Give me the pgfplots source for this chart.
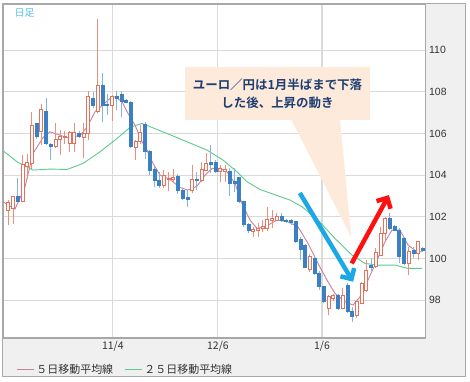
\documentclass[border=0pt]{standalone}
\usepackage{pgfplots}
\pgfplotsset{compat=1.18}
\usepackage{pgfplotstable}
\usetikzlibrary{arrows.meta}
\usepackage{fontspec}
\setmainfont{Liberation Sans}
\newfontfamily\jp{Noto Sans CJK JP}[BoldFont={Noto Sans CJK JP Bold}]
\definecolor{upc}{HTML}{E2725B}
\definecolor{upw}{HTML}{E8907E}
\definecolor{dnc}{HTML}{3A80C2}
\definecolor{dnw}{HTML}{86B4DC}
\definecolor{ma5}{HTML}{C9819F}
\definecolor{ma25}{HTML}{5CCB8D}
\definecolor{gridc}{HTML}{DADADA}
\definecolor{panel}{HTML}{F0F0F0}
\definecolor{framec}{HTML}{A8A8A8}
\definecolor{callout}{HTML}{FDEADB}
\definecolor{callt}{HTML}{1E3E72}
\definecolor{arrowb}{HTML}{1BA8E6}
\definecolor{arrowr}{HTML}{FF1010}
\definecolor{labelc}{HTML}{55C3EE}
\definecolor{textc}{HTML}{333333}

\pgfdeclareplotmark{cbody}{%
  \pgfpathrectangle{\pgfpoint{-1.5bp}{0bp}}{\pgfpoint{3.0bp}{\candleh bp}}%
  \pgfusepath{fill,stroke}}
\pgfdeclareplotmark{cwick}{%
  \pgfpathmoveto{\pgfpoint{0bp}{0bp}}\pgfpathlineto{\pgfpoint{0bp}{\wickh bp}}%
  \pgfusepath{stroke}}

\pgfplotstableread{
i o h l c
0 102.3 102.8 101.6 102.7
1 102.4 102.95 101.65 102.96
2 102.96 103.84 102.7 102.75
3 102.72 104.96 102.7 104.51
4 104.4 105.0 103.8 104.6
5 104.56 107.04 104.3 106.4
6 106.48 106.5 105.75 105.84
7 106.08 107.39 105.44 107.15
8 107.07 107.68 105.44 105.52
9 105.5 105.55 104.72 105.4
10 105.4 106.5 105.3 105.7
11 105.7 106.15 104.95 105.85
12 105.8 106.1 105.5 105.85
13 105.5 106.1 105.1 106.05
14 105.5 106.48 105.1 106.05
15 106.0 106.1 105.8 105.85
16 105.8 106.5 104.8 106.0
17 106.0 108.03 105.68 107.76
18 107.71 108.0 107.2 107.33
19 107.04 111.49 106.96 108.32
20 108.29 108.88 106.53 107.33
21 107.4 107.87 106.88 107.33
22 107.36 107.85 106.6 107.76
23 107.8 108.03 107.12 107.7
24 107.9 108.03 106.8 107.55
25 107.6 107.65 107.45 107.5
26 107.49 107.55 105.28 105.36
27 105.35 105.7 104.72 105.6
28 105.6 106.4 105.5 106.05
29 106.43 106.56 104.77 105.12
30 105.12 105.2 104.0 104.24
31 104.29 104.4 103.41 103.73
32 103.73 104.16 103.36 103.52
33 103.52 104.24 103.4 104.0
34 103.8 104.16 103.25 103.85
35 103.78 104.3 103.6 103.9
36 103.95 104.05 103.1 103.25
37 103.28 103.35 102.8 102.88
38 102.92 103.28 102.45 102.85
39 103.25 104.48 103.12 103.8
40 103.8 104.16 103.28 103.73
41 103.76 104.64 103.68 104.27
42 104.24 105.04 104.2 104.56
43 104.6 105.44 104.1 104.53
44 104.6 104.72 104.08 104.16
45 104.16 104.48 103.68 104.32
46 104.16 104.48 103.68 104.27
47 104.2 104.32 102.99 103.63
48 103.68 104.32 103.2 103.6
49 103.89 103.92 102.64 102.72
50 102.72 102.75 101.52 101.65
51 101.65 101.7 101.23 101.33
52 101.3 101.52 101.04 101.39
53 101.33 101.68 101.04 101.44
54 101.44 101.84 101.28 101.55
55 101.44 102.48 101.33 101.87
56 101.84 102.32 101.44 101.92
57 101.84 102.16 101.8 102.03
58 102.0 102.16 101.76 101.81
59 101.84 101.9 101.7 101.76
60 101.84 101.9 101.6 101.72
61 101.76 101.8 100.72 100.8
62 100.9 101.04 99.92 100.43
63 100.64 100.7 99.52 99.57
64 99.45 100.2 99.36 100.1
65 100.0 100.1 99.2 99.3
66 99.28 99.4 98.5 98.64
67 98.64 98.7 97.85 97.92
68 97.6 98.24 97.28 98.16
69 98.08 98.3 97.95 98.24
70 98.24 98.3 97.52 97.6
71 97.6 98.56 97.55 98.24
72 98.72 98.8 97.36 97.44
73 97.44 97.68 96.96 97.2
74 97.28 98.0 97.12 97.92
75 97.84 98.85 97.8 98.8
76 98.48 99.92 98.4 99.44
77 99.68 100.0 99.4 99.57
78 99.6 100.48 99.52 100.27
79 100.16 101.52 100.1 101.2
80 101.2 102.0 100.8 101.92
81 101.92 102.16 101.36 101.44
82 101.52 101.6 101.3 101.36
83 101.36 101.44 99.76 100.08
84 100.96 101.04 99.68 99.76
85 99.76 100.56 99.2 100.32
86 100.37 100.56 100.0 100.24
87 100.24 100.85 99.92 100.8
88 100.48 100.56 100.32 100.4
}\ohlc

\begin{document}
\begin{tikzpicture}
\useasboundingbox (0,0) rectangle (470bp,382bp);
\fill[panel] (2.5bp,5bp) rectangle (465.5bp,378bp);
\begin{axis}[
  anchor=south west, at={(3bp,44bp)},
  x=4.71bp, y=20.83bp,
  xmin=-1.13, xmax=88.6, ymin=96.18, ymax=112.2,
  axis background/.style={fill=white},
  axis line style={draw=framec, line width=1.5bp},
  grid=major, major grid style={draw=gridc, line width=1.1bp},
  major tick length=0pt,
  xtick={22.2,44.5,66.6}, xticklabels={11/4,12/6,1/6},
  ytick={98,100,...,110},
  yticklabel pos=right,
  /pgf/number format/assume math mode=true,
  yticklabel style={anchor=west, font=\fontsize{10.5}{12}\selectfont, text=textc},
  xticklabel style={font=\jp\fontsize{10.5}{12}\selectfont, text=textc},
  legend style={at={(axis description cs:0,0)}, anchor=north west, xshift=10bp, yshift=-22bp,
    draw=none, fill=none, font=\jp\fontsize{11}{13}\selectfont, text=textc,
    /tikz/every even column/.append style={column sep=9bp}},
  legend columns=2,
  legend image code/.code={\draw[#1, line width=1.3bp] (0bp,0bp) -- (17bp,0bp);},
]
% callout
\fill[callout] (axis cs:37.5,106.64) rectangle (axis cs:76.8,109.18);
\fill[callout] (axis cs:60.0,106.7) -- (axis cs:72.8,101.02) -- (axis cs:70.4,106.7) -- cycle;
\node[text=callt, font=\jp\bfseries\fontsize{12.5}{14}\selectfont] at (axis cs:57.15,108.32) {ユーロ／円は1月半ばまで下落};
\node[text=callt, font=\jp\bfseries\fontsize{12.5}{14}\selectfont] at (axis cs:57.15,107.46) {した後、上昇の動き};
% wicks
\addplot[forget plot, only marks, mark=cwick, mark options={draw=upw, line width=0.8bp},
  visualization depends on={max(20.83*(\thisrow{h}-\thisrow{l}),0.5) \as \wickh}]
  table[x=i, y expr={\thisrow{c}>=\thisrow{o} ? \thisrow{l} : nan}] {\ohlc};
\addplot[forget plot, only marks, mark=cwick, mark options={draw=dnw, line width=0.8bp},
  visualization depends on={max(20.83*(\thisrow{h}-\thisrow{l}),0.5) \as \wickh}]
  table[x=i, y expr={\thisrow{c}<\thisrow{o} ? \thisrow{l} : nan}] {\ohlc};
% bodies
\addplot[forget plot, only marks, mark=cbody, mark options={draw=upc, fill=white, line width=0.8bp},
  visualization depends on={max(20.83*abs(\thisrow{c}-\thisrow{o}),0.6) \as \candleh}]
  table[x=i, y expr={\thisrow{c}>=\thisrow{o} ? \thisrow{o} : nan}] {\ohlc};
\addplot[forget plot, only marks, mark=cbody, mark options={draw=dnc, fill=dnc, line width=0.6bp},
  visualization depends on={max(20.83*abs(\thisrow{c}-\thisrow{o}),0.6) \as \candleh}]
  table[x=i, y expr={\thisrow{c}<\thisrow{o} ? \thisrow{c} : nan}] {\ohlc};
% moving averages
\addplot[ma5, line width=0.9bp] coordinates {
(-1.13,102.72) (1.42,102.37) (3.55,103.44) (5.24,105.04) (7.37,105.8) (8.85,106.08)
(12.46,105.8) (15.22,105.9) (16.71,106.3) (18.41,107.04) (21.59,107.68) (22.65,107.76)
(24.14,107.52) (25.41,106.96) (26.9,106.4) (28.39,105.6) (29.45,105.2) (30.72,104.56)
(32.2,104.0) (34.33,103.79) (36.45,103.41) (38.15,103.28) (40.06,103.47) (41.76,104.0)
(43.25,104.32) (44.95,104.32) (46.43,104.16) (48.13,103.6) (49.62,102.64) (51.32,101.84)
(52.8,101.44) (54.5,101.52) (57.05,101.84) (59.38,101.76) (61.5,101.52) (63.63,100.72)
(65.75,99.76) (67.66,98.96) (69.36,98.32) (71.48,97.92) (73.18,97.76) (74.67,98.16)
(76.37,98.96) (78.28,99.92) (79.98,100.8) (81.46,101.36) (83.16,101.36) (84.86,100.64)
(86.77,100.32) (87.83,100.32)};
\addlegendentry{５日移動平均線}
\addplot[ma25, line width=0.9bp] coordinates {
(-1.13,105.17) (1.85,104.64) (5.24,104.24) (8.85,104.29) (12.46,104.27) (15.86,104.56)
(19.47,105.12) (23.08,105.76) (25.84,106.29) (28.39,106.48) (33.69,106.0) (37.94,105.6)
(42.19,105.2) (45.58,104.72) (48.56,104.16) (50.68,103.68) (53.44,103.31) (56.2,103.09)
(59.81,102.8) (62.36,102.48) (65.75,101.84) (69.36,100.96) (72.97,100.16) (75.73,99.76)
(78.49,99.68) (82.1,99.68) (84.86,99.52) (87.83,99.52)};
\addlegendentry{２５日移動平均線}
% arrows
\draw[arrowb, line width=4.5bp, -{Straight Barb[length=8bp,width=16bp]}] (axis cs:61.9,103.14) -- (axis cs:73.2,98.88);
\draw[arrowr, line width=4.5bp, -{Straight Barb[length=8bp,width=16bp]}] (axis cs:72.9,99.76) -- (axis cs:80.8,103.04);
\end{axis}
\draw[framec, line width=1bp] (2.5bp,5bp) rectangle (465.5bp,378bp);
\node[text=labelc, font=\jp\fontsize{10}{12}\selectfont] at (24.5bp,369bp) {日足};
\end{tikzpicture}
\end{document}
